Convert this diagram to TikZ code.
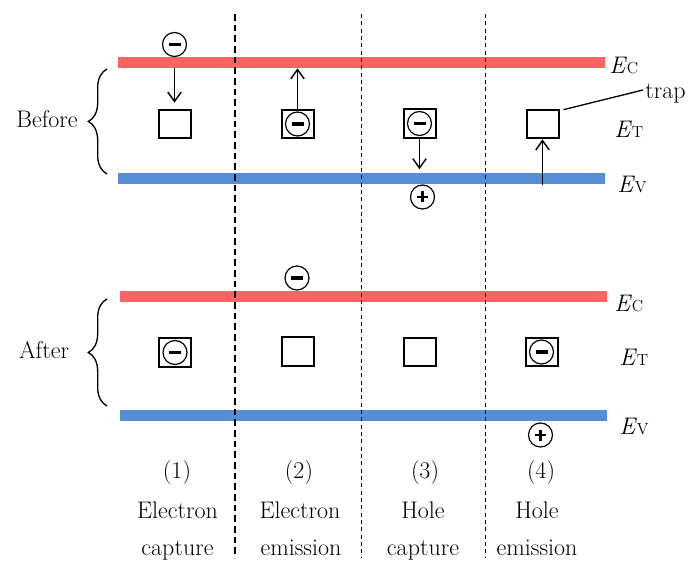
\documentclass[tikz,border=0pt]{standalone}
\usetikzlibrary{arrows.meta,calc,decorations.pathreplacing}
\definecolor{bandred}{RGB}{255,99,99}
\definecolor{bandblue}{RGB}{85,142,213}
\newcommand\bandlabel[1]{\textit{E}{\fontsize{12}{14}\selectfont #1}}
\begin{document}
\begin{tikzpicture}[x=0.75pt,y=-0.75pt,
  font=\fontsize{18}{21}\selectfont,
  band/.style={rectangle, inner sep=0pt, minimum width=365.25pt, minimum height=8.25pt},
  trapbox/.style={draw, line width=1.5pt, minimum width=24pt, minimum height=21.5pt, inner sep=0pt},
  carrier/.style={circle, draw, line width=0.9pt, minimum size=18pt, inner sep=0pt},
  elec/.style={carrier, path picture={\draw[line width=2.4pt] ($(path picture bounding box.center)+(-6,0)$) -- ++(12,0);}},
  hole/.style={carrier, path picture={
      \draw[line width=2.2pt] ($(path picture bounding box.center)+(-5.5,0)$) -- ++(11,0);
      \draw[line width=2.2pt] ($(path picture bounding box.center)+(0,-5.5)$) -- ++(0,11);}},
  arr/.style={-{Straight Barb[length=7pt,width=10pt]}, line width=1.1pt},
  bandlbl/.style={anchor=west, inner sep=0pt},
  brc/.style={line width=1pt, decorate, decoration={brace, amplitude=14pt, aspect=0.5}},
  sep1/.style={line width=1.2pt, dash pattern=on 5pt off 3pt},
  sep2/.style={line width=0.8pt, dash pattern=on 3pt off 2.5pt}
]
\useasboundingbox (0,0) rectangle (689,563);

% bands
\node[band, fill=bandred] (ec1) at (361.5,62.5) {};
\node[band, fill=bandblue] (ev1) at (361.5,179) {};
\node[band, fill=bandred] (ec2) at (363,296.5) {};
\node[band, fill=bandblue] (ev2) at (363,415) {};

% separators
\draw[sep1] (235,14) -- (235,558);
\draw[sep2] (361.5,14) -- (361.5,558);
\draw[sep2] (485.5,14) -- (485.5,558);

% traps before
\node[trapbox] (t1) at (174.5,124) {};
\node[trapbox] (t2) at (297.5,124) {};
\node[trapbox] (t3) at (419.5,123.5) {};
\node[trapbox] (t4) at (542.5,124) {};
\node[elec] (et2) at (t2) {};
\node[elec] (et3) at (t3) {};

% traps after
\node[trapbox] (b1) at (175,352.5) {};
\node[trapbox] (b2) at (298,351.5) {};
\node[trapbox] (b3) at (419.5,352) {};
\node[trapbox] (b4) at (541.5,352) {};
\node[elec] (eb1) at (b1) {};
\node[elec] (eb4) at (b4) {};

% free carriers
\node[elec] (e1) at (174.5,44.5) {};
\node[hole] (h3) at (422.5,197) {};
\node[elec] (e2a) at (297,278) {};
\node[hole] (h4a) at (540.5,435) {};

% transitions
\draw[arr, shorten >=4.5pt] (t1.north |- ec1.south) -- (t1.north);
\draw[arr] (et2.north) -- (et2.north |- ec1.south);
\draw[arr, shorten >=3pt] (t3.south) -- (t3.south |- ev1.north);
\draw[arr] (t4.south |- ev1.south) -- (t4.south);

% trap label
\node[anchor=west, inner sep=0pt] (trap) at (645,93) {trap};
\draw[line width=1pt] ($(t4.north east)+(4,1)$) -- ($(trap.west)+(-2,-3)$);

% band labels
\node[bandlbl] (lc1) at (609,65) {\bandlabel{C}};
\node[bandlbl] (lt1) at (614,129) {\bandlabel{T}};
\node[bandlbl] (lv1) at (617,184) {\bandlabel{V}};
\node[bandlbl] (lc2) at (614,303) {\bandlabel{C}};
\node[bandlbl] (lt2) at (619,357) {\bandlabel{T}};
\node[bandlbl] (lv2) at (619,426) {\bandlabel{V}};

% braces
\draw[brc] (107,174) -- (107,69);
\draw[brc] (107,406) -- (107,299);
\node (before) at (47,119) {Before};
\node (after) at (44,350) {After};

% captions
\node[anchor=base] (n1) at (177,478) {(1)};
\node[anchor=base] (n2) at (299,478) {(2)};
\node[anchor=base] (n3) at (425,478) {(3)};
\node[anchor=base] (n4) at (541,478) {(4)};
\node[anchor=base] (c1a) at (177.5,518) {Electron};
\node[anchor=base] (c1b) at (177.5,555) {capture};
\node[anchor=base] (c2a) at (300,518) {Electron};
\node[anchor=base] (c2b) at (301,555) {emission};
\node[anchor=base] (c3a) at (423,518) {Hole};
\node[anchor=base] (c3b) at (423,555) {capture};
\node[anchor=base] (c4a) at (537,518) {Hole};
\node[anchor=base] (c4b) at (537,555) {emission};
\end{tikzpicture}
\end{document}
